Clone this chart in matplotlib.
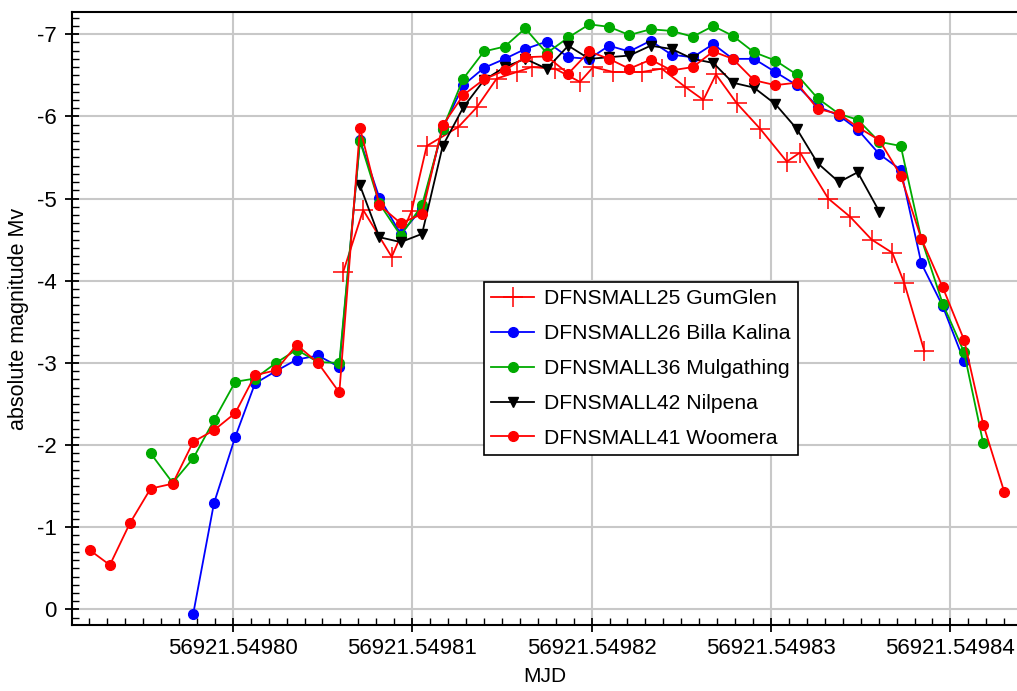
import matplotlib
matplotlib.use("Agg")
import matplotlib.pyplot as plt
from matplotlib.ticker import MultipleLocator, FixedLocator, FuncFormatter
import numpy as np

plt.rcParams['font.family'] = ['Liberation Sans', 'DejaVu Sans']
plt.rcParams['axes.unicode_minus'] = False

MJD0 = 56921.5498
# time offsets from MJD0, in micro-days (1e-6 d)
t_gumglen = [6.16, 7.27, 8.86, 9.97, 10.81, 12.57, 13.60, 14.71, 15.83, 16.66,
             17.96, 19.35, 20.09, 21.21, 22.79, 23.91, 25.21, 26.23, 26.93, 28.09,
             29.39, 30.88, 31.62, 33.19, 34.40, 35.61, 36.76, 37.43, 38.55]
m_gumglen = [-4.11, -4.86, -4.29, -4.85, -5.64, -5.87, -6.11, -6.46, -6.54, -6.60,
             -6.58, -6.42, -6.60, -6.54, -6.54, -6.58, -6.36, -6.20, -6.51, -6.16,
             -5.85, -5.45, -5.56, -5.00, -4.78, -4.50, -4.34, -3.97, -3.14]

t_billa = [-2.20, -1.05, 0.14, 1.24, 2.41, 3.56, 4.75, 5.94, 7.09, 8.17,
           9.36, 10.55, 11.70, 12.85, 14.00, 15.16, 16.30, 17.50, 18.70, 19.87,
           20.97, 22.10, 23.29, 24.46, 25.64, 26.78, 27.87, 29.05, 30.24, 31.43,
           32.60, 33.79, 34.83, 36.04, 37.23, 38.38, 39.57, 40.76]
m_billa = [0.05, -1.29, -2.10, -2.75, -2.90, -3.04, -3.09, -2.95, -5.71, -5.01,
           -4.57, -4.88, -5.85, -6.38, -6.59, -6.70, -6.82, -6.91, -6.72, -6.70,
           -6.86, -6.79, -6.92, -6.75, -6.72, -6.88, -6.70, -6.70, -6.54, -6.38,
           -6.12, -6.01, -5.84, -5.54, -5.35, -4.21, -3.69, -3.02]

t_mulg = [-4.58, -3.35, -2.20, -1.05, 0.14, 1.24, 2.41, 3.56, 4.75, 5.94,
          7.09, 8.17, 9.36, 10.55, 11.70, 12.85, 14.00, 15.16, 16.30, 17.50,
          18.70, 19.87, 20.97, 22.10, 23.29, 24.46, 25.64, 26.78, 27.87, 29.05,
          30.24, 31.43, 32.60, 33.79, 34.83, 36.04, 37.23, 38.38, 39.57, 40.76,
          41.83]
m_mulg = [-1.90, -1.54, -1.84, -2.30, -2.77, -2.81, -3.00, -3.16, -3.01, -3.00,
          -5.70, -4.94, -4.55, -4.92, -5.85, -6.46, -6.79, -6.85, -7.07, -6.77,
          -6.96, -7.12, -7.09, -6.99, -7.06, -7.04, -6.97, -7.10, -6.98, -6.78,
          -6.68, -6.51, -6.22, -6.03, -5.96, -5.69, -5.64, -4.51, -3.72, -3.13,
          -2.02]

t_nilp = [7.09, 8.17, 9.36, 10.55, 11.70, 12.85, 14.00, 15.16, 16.30, 17.50,
          18.70, 19.87, 20.97, 22.10, 23.29, 24.46, 25.64, 26.78, 27.87, 29.05,
          30.24, 31.43, 32.60, 33.79, 34.83, 36.04]
m_nilp = [-5.16, -4.53, -4.47, -4.57, -5.64, -6.11, -6.44, -6.60, -6.70, -6.58,
          -6.86, -6.70, -6.72, -6.74, -6.86, -6.82, -6.70, -6.65, -6.41, -6.35,
          -6.15, -5.85, -5.43, -5.20, -5.32, -4.84]

t_woom = [-7.96, -6.85, -5.73, -4.58, -3.35, -2.20, -1.05, 0.14, 1.24, 2.41,
          3.56, 4.75, 5.94, 7.09, 8.17, 9.36, 10.55, 11.70, 12.85, 14.00,
          15.16, 16.30, 17.50, 18.70, 19.87, 20.97, 22.10, 23.29, 24.46, 25.64,
          26.78, 27.87, 29.05, 30.24, 31.43, 32.60, 33.79, 34.83, 36.04, 37.23,
          38.38, 39.57, 40.76, 41.83, 43.00]
m_woom = [-0.72, -0.54, -1.05, -1.47, -1.53, -2.04, -2.18, -2.39, -2.85, -2.91,
          -3.22, -3.00, -2.64, -5.86, -4.92, -4.70, -4.81, -5.89, -6.26, -6.45,
          -6.56, -6.72, -6.73, -6.52, -6.79, -6.70, -6.58, -6.69, -6.56, -6.60,
          -6.79, -6.70, -6.44, -6.38, -6.41, -6.09, -6.03, -5.87, -5.71, -5.28,
          -4.51, -3.92, -3.28, -2.25, -1.43]

x_ticks = [56921.54980, 56921.54981, 56921.54982, 56921.54983, 56921.54984]
y_ticks = [-7, -6, -5, -4, -3, -2, -1, 0]

def mjd(t):
    return MJD0 + np.asarray(t) * 1e-6

fig = plt.figure(figsize=(10.17, 6.91), dpi=100)
ax = fig.add_axes([0.0708, 0.0955, 0.9292, 0.8871])

green = '#00aa00'
ax.plot(mjd(t_gumglen), m_gumglen, color='#ff0000', lw=1.3, marker='+', ms=14,
        mew=1.1, label='DFNSMALL25 GumGlen', zorder=3)
ax.plot(mjd(t_billa), m_billa, color='#0000ff', lw=1.3, marker='o', ms=7,
        label='DFNSMALL26 Billa Kalina', zorder=4)
ax.plot(mjd(t_mulg), m_mulg, color=green, lw=1.3, marker='o', ms=7,
        label='DFNSMALL36 Mulgathing', zorder=5)
ax.plot(mjd(t_nilp), m_nilp, color='black', lw=1.3, marker='v', ms=7.5,
        label='DFNSMALL42 Nilpena', zorder=6)
ax.plot(mjd(t_woom), m_woom, color='#ff0000', lw=1.3, marker='o', ms=7,
        label='DFNSMALL41 Woomera', zorder=7)

ax.set_xlim(MJD0 - 8.96e-6, MJD0 + 43.71e-6)
ax.set_ylim(0.19, -7.27)

ax.xaxis.set_major_locator(FixedLocator(x_ticks))
ax.xaxis.set_minor_locator(MultipleLocator(1e-6))
ax.xaxis.set_major_formatter(FuncFormatter(lambda v, p: f"{v:.5f}"))
ax.yaxis.set_major_locator(FixedLocator(y_ticks))
ax.yaxis.set_minor_locator(MultipleLocator(0.1))
ax.yaxis.set_major_formatter(FuncFormatter(lambda v, p: f"{v:.0f}"))

ax.grid(True, which='major', color='#c8c8c8', lw=1.5, zorder=0)
ax.set_axisbelow(True)

ax.tick_params(which='major', direction='inout', length=10, width=1.3,
               labelsize=16, pad=6)
ax.tick_params(axis='x', which='major', pad=4)
ax.tick_params(which='minor', direction='in', length=5, width=1.0)
for s in ['left', 'bottom', 'top']:
    ax.spines[s].set_linewidth(1.5)
ax.spines['right'].set_visible(False)

ax.set_xlabel('MJD', fontsize=15, labelpad=6)
ax.set_ylabel('absolute magnitude Mv', fontsize=15.5, labelpad=6)

leg = ax.legend(loc='upper left', bbox_to_anchor=(0.436, 0.5595), fontsize=15.2,
                frameon=True, fancybox=False, edgecolor='black', framealpha=1,
                handlelength=2.0, handletextpad=0.5, labelspacing=0.75,
                borderpad=0.35, borderaxespad=0)
leg.get_frame().set_linewidth(1.2)

fig.savefig('out.png', dpi=100)
